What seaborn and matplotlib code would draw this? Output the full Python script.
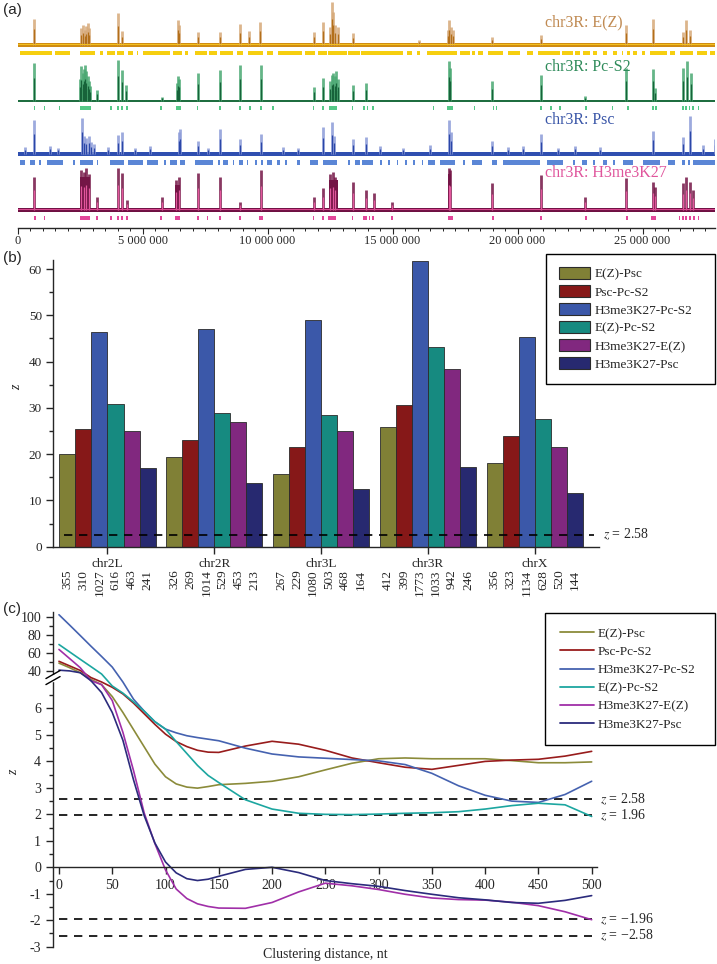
import numpy as np
import pandas as pd
import matplotlib
matplotlib.use("Agg")
import matplotlib.pyplot as plt
import matplotlib.transforms as mtransforms
import seaborn as sns
from matplotlib.ticker import FuncFormatter, MultipleLocator
from matplotlib.patches import Patch, Rectangle
from matplotlib.lines import Line2D

# ---------------- panel (a): chr3R tracks (positions in Mb, heights in arbitrary units)
CHR_LEN = 27.9e6

ez_peak_pos = [0.67, 2.55, 2.62, 2.68, 2.74, 2.80, 2.86, 4.0, 4.17, 6.41, 6.46, 7.2, 8.1, 8.9, 9.26, 9.7,
               11.86, 12.23, 12.5, 12.57, 12.63, 12.7, 12.83, 13.4, 16.04, 17.2, 17.27, 17.33, 17.4, 18.98,
               20.92, 24.35, 25.4, 26.6, 26.72, 26.9]
ez_peak_h = [26, 17, 20, 15, 19, 22, 17, 31.7, 14, 25, 20, 13, 13, 20.7, 14, 23,
             12.7, 22.7, 18, 42.7, 33, 20, 18, 11.7, 5, 15, 25, 18, 15, 8,
             10, 20, 26, 13, 25, 15]
ez_bars = [(0.10, 1.37), (1.50, 2.10), (2.50, 3.10), (3.30, 3.43), (3.57, 3.90), (3.99, 4.26), (4.43, 4.63),
           (4.77, 4.83), (5.03, 6.10), (6.23, 6.57), (6.70, 6.83), (7.10, 7.57), (7.67, 7.97), (8.10, 8.63),
           (8.77, 9.03), (9.23, 9.83), (9.97, 10.23), (10.43, 11.37), (11.50, 11.90), (12.03, 12.37),
           (12.43, 13.17), (13.23, 13.70), (13.75, 15.43), (15.57, 15.77), (15.97, 16.10), (16.37, 17.57),
           (17.70, 18.10), (18.17, 18.30), (18.43, 18.63), (18.83, 19.43), (19.63, 20.10), (20.37, 20.63),
           (20.83, 21.70), (21.77, 22.23), (22.30, 22.50), (22.63, 22.90), (23.03, 23.17), (23.43, 23.57),
           (23.83, 23.97), (24.17, 24.23), (24.37, 24.50), (24.63, 24.77), (24.97, 25.10), (25.30, 25.97),
           (26.10, 26.30), (26.50, 27.03), (27.17, 27.57), (27.70, 27.90)]

pc_peak_pos = [0.67, 2.5, 2.55, 2.6, 2.65, 2.7, 2.75, 2.8, 2.85, 2.9, 3.17, 4.0, 4.17, 4.34, 5.77, 6.37, 6.42,
               6.47, 7.2, 8.1, 8.9, 9.73, 11.86, 12.23, 12.5, 12.56, 12.62, 12.68, 12.74, 12.8, 13.4, 13.94,
               17.25, 17.3, 18.98, 20.92, 22.7, 24.35, 25.4, 25.5, 26.6, 26.77, 26.93]
pc_peak_h = [37.7, 22, 35, 28, 32, 36, 30, 25, 20, 15, 11, 41, 31, 16, 4, 18, 25,
             22, 27.7, 31, 36, 36, 13.7, 22.7, 20, 26, 28, 25, 30, 22, 16, 18,
             40, 33, 20, 26, 5, 33, 31.7, 13, 33, 40, 28]
pc_blocks = [(2.5, 2.9, 12), (6.37, 6.5, 8), (12.5, 12.8, 10)]
pc_bars = [(0.64, 0.70), (1.04, 1.10), (1.64, 1.70), (2.50, 2.93), (3.71, 3.77), (3.97, 4.05), (4.14, 4.20),
           (4.35, 4.41), (5.71, 5.77), (6.34, 6.53), (7.16, 7.22), (8.07, 8.13), (8.87, 8.93), (9.27, 9.33),
           (9.71, 9.77), (10.18, 10.24), (11.80, 11.86), (12.19, 12.27), (12.47, 12.77), (13.38, 13.44),
           (13.81, 13.90), (13.96, 14.02), (14.18, 14.24), (16.60, 16.66), (17.19, 17.43), (18.24, 18.30),
           (19.01, 19.07), (19.12, 19.18), (20.91, 20.97), (21.30, 21.36), (21.67, 21.73), (22.71, 22.77),
           (23.76, 23.82), (24.37, 24.47), (25.37, 25.45), (25.50, 25.57), (26.58, 26.64), (26.71, 26.77),
           (26.84, 26.90), (26.98, 27.04), (27.20, 27.26)]

psc_peak_pos = [0.67, 2.57, 2.65, 2.75, 2.85, 2.95, 3.05, 4.0, 4.17, 6.45, 6.5, 7.2, 8.1, 8.9, 9.73,
                12.23, 12.57, 12.65, 13.4, 13.94, 17.27, 17.33, 18.98, 20.92, 25.4, 26.6, 26.9, 27.9,
                0.3, 1.3, 1.6, 3.6, 4.7, 5.3, 7.6, 10.6, 11.2, 14.5, 15.4, 16.5, 19.6, 20.2, 21.6,
                22.3, 23.3, 27.4]
psc_peak_h = [34, 36, 18, 16, 18, 12, 10, 19, 22, 22, 25, 13, 25, 15, 20,
              26.7, 32, 18, 15, 17, 34, 22, 13, 20, 23, 17, 38, 15,
              7, 8, 6, 7, 6, 8, 6, 7, 6, 8, 6, 9, 7, 8, 6,
              8, 7, 9]
psc_bars = [(0.10, 0.30), (0.50, 0.70), (0.87, 0.93), (1.17, 1.83), (2.23, 2.30), (2.50, 3.03), (3.17, 3.21),
            (3.70, 4.26), (4.43, 5.03), (5.17, 5.63), (5.86, 5.92), (6.10, 6.37), (6.50, 6.70), (7.10, 7.83),
            (8.03, 8.09), (8.23, 8.43), (8.63, 8.67), (8.87, 9.03), (9.17, 9.23), (9.50, 9.56), (9.73, 9.83),
            (9.97, 10.17), (10.37, 10.50), (10.70, 10.76), (11.17, 11.30), (11.70, 12.03), (12.21, 12.77),
            (13.23, 13.30), (13.50, 13.70), (13.77, 14.23), (14.50, 14.56), (14.83, 14.89), (15.17, 15.23),
            (15.50, 15.56), (15.83, 15.89), (16.17, 16.23), (16.43, 16.70), (16.90, 17.50), (17.83, 17.89),
            (18.17, 18.57), (18.97, 19.17), (19.43, 20.90), (21.17, 21.83), (22.23, 22.29), (22.57, 22.77),
            (23.03, 23.09), (23.43, 23.57), (23.83, 23.90), (24.23, 24.63), (25.03, 25.70), (26.03, 26.30),
            (26.57, 26.70), (26.83, 26.89), (27.03, 27.90)]

h3_peak_pos = [0.67, 3.17, 4.0, 4.17, 4.37, 5.77, 7.2, 8.1, 8.9, 9.73, 11.86, 12.23, 13.4, 13.94, 14.24,
               14.97, 18.98, 20.92, 22.7, 24.35, 25.4, 25.5, 26.6, 26.72, 26.9, 27.0,
               2.55, 2.65, 2.75, 2.85, 6.35, 6.45, 12.5, 12.6, 12.7, 17.25, 17.3]
h3_peak_h = [33, 13, 42, 37, 10, 13, 37, 33, 8, 40, 13, 22, 28, 20, 17,
             8, 27, 35, 13, 32, 28, 23, 27, 33, 28, 20,
             40, 38, 42, 36, 30, 33, 36, 38, 33, 42, 40]
h3_blocks = [(2.5, 2.88, 33), (6.3, 6.5, 25), (12.45, 12.8, 30), (17.2, 17.35, 36)]
h3_bars = [(0.64, 0.72), (1.04, 1.10), (2.50, 2.90), (3.14, 3.20), (3.71, 3.77), (3.97, 4.05), (4.14, 4.20),
           (4.35, 4.41), (5.71, 5.79), (6.30, 6.50), (7.16, 7.24), (7.56, 7.62), (8.07, 8.15), (8.87, 8.93),
           (9.67, 9.80), (11.80, 11.86), (12.18, 12.24), (12.43, 12.74), (13.38, 13.44), (13.81, 13.97),
           (14.05, 14.10), (14.18, 14.24), (14.94, 15.00), (17.23, 17.43), (18.98, 19.04), (20.91, 20.97),
           (22.71, 22.77), (24.34, 24.40), (25.34, 25.54), (26.44, 26.50), (26.58, 26.64), (26.71, 26.77),
           (26.87, 26.93), (27.03, 27.09), (27.20, 27.26)]

# ---------------- panel (b)
chroms = ["chr2L", "chr2R", "chr3L", "chr3R", "chrX"]
pairs = ["E(Z)-Psc", "Psc-Pc-S2", "H3me3K27-Pc-S2", "E(Z)-Pc-S2", "H3me3K27-E(Z)", "H3me3K27-Psc"]
z_ez_psc = [20.0, 19.3, 15.7, 25.9, 18.1]
z_psc_pc = [25.5, 23.0, 21.6, 30.7, 24.0]
z_h3_pc = [46.5, 47.1, 49.0, 61.8, 45.4]
z_ez_pc = [30.8, 28.9, 28.5, 43.1, 27.5]
z_h3_ez = [25.0, 27.0, 25.1, 38.3, 21.6]
z_h3_psc = [16.9, 13.8, 12.4, 17.3, 11.6]
n_ez_psc = [355, 326, 267, 412, 356]
n_psc_pc = [310, 269, 229, 399, 323]
n_h3_pc = [1027, 1014, 1080, 1773, 1134]
n_ez_pc = [616, 529, 503, 1033, 628]
n_h3_ez = [463, 453, 468, 942, 520]
n_h3_psc = [241, 213, 164, 246, 144]
bar_colors = ["#808036", "#861818", "#3b58a9", "#168a80", "#81287f", "#272970"]

# ---------------- panel (c)
dist = [0, 10, 20, 30, 40, 50, 60, 70, 80, 90, 100, 110, 120, 130, 140, 150, 175, 200, 225, 250,
        275, 300, 325, 350, 375, 400, 425, 450, 475, 500]
c_ez_psc = [49, 44, 38.5, 7.1, 6.9, 6.45, 5.85, 5.2, 4.55, 3.9, 3.42, 3.15, 3.03, 2.99, 3.05, 3.12, 3.17,
            3.25, 3.42, 3.68, 3.93, 4.1, 4.13, 4.1, 4.1, 4.1, 4.03, 3.95, 3.95, 3.98]
c_psc_pc = [51, 46, 41, 20, 7.0, 6.8, 6.55, 6.2, 5.8, 5.4, 5.03, 4.75, 4.56, 4.42, 4.35, 4.34, 4.58, 4.76,
            4.65, 4.42, 4.13, 3.95, 3.78, 3.7, 3.85, 4.0, 4.05, 4.08, 4.2, 4.38]
c_h3_pc = [102, 90.7, 79.2, 67.6, 56.3, 44.7, 7.0, 6.35, 5.9, 5.5, 5.22, 5.08, 4.97, 4.9, 4.84, 4.78, 4.5,
           4.28, 4.17, 4.12, 4.07, 4.02, 3.88, 3.55, 3.08, 2.72, 2.5, 2.45, 2.75, 3.25]
c_ez_pc = [69.4, 61.3, 53.2, 45.2, 37.1, 6.85, 6.58, 6.25, 5.9, 5.5, 5.22, 4.75, 4.3, 3.85, 3.47, 3.2, 2.55,
           2.2, 2.04, 2.0, 1.99, 2.01, 2.04, 2.06, 2.1, 2.2, 2.33, 2.42, 2.36, 1.92]
c_h3_ez = [64, 54, 44, 7.05, 6.9, 6.3, 5.1, 3.65, 2.05, 0.9, -0.1, -0.82, -1.18, -1.38, -1.48, -1.54, -1.55,
           -1.33, -0.93, -0.6, -0.7, -0.84, -1.02, -1.16, -1.22, -1.24, -1.32, -1.45, -1.68, -1.98]
c_h3_psc = [41.3, 40.5, 38.5, 7.05, 6.6, 5.85, 4.8, 3.3, 1.95, 0.92, 0.2, -0.21, -0.43, -0.5, -0.45, -0.34,
            -0.08, 0.0, -0.2, -0.5, -0.62, -0.72, -0.88, -1.02, -1.15, -1.23, -1.33, -1.36, -1.25, -1.07]
line_colors = ["#8b8b3a", "#981c1c", "#4562b0", "#1ca6a0", "#a02fa8", "#2b2b7c"]
z_levels = [2.58, 1.96, -1.96, -2.58]
z_level_labels = ["$z$ = 2.58", "$z$ = 1.96", "$z$ = \u22121.96", "$z$ = \u22122.58"]

# ---------------- style
sns.set_theme(style="ticks")
plt.rcParams["font.family"] = ["Liberation Serif", "DejaVu Serif"]
plt.rcParams["mathtext.fontset"] = "stix"
plt.rcParams["axes.unicode_minus"] = False
plt.rcParams["axes.linewidth"] = 1.0

W, H = 717, 964
fig = plt.figure(figsize=(W / 100, H / 100), dpi=100)


def rect(l, t, r, b):
    return [l / W, 1 - b / H, (r - l) / W, (b - t) / H]


def draw_track(ax, base, pos, h, blocks, bars, bar_y, band, light, dark, bar_color,
               band_h=3.6, trace=None):
    x = np.asarray(pos) * 1e6
    hh = np.asarray(h, float)
    ax.fill_between([0, CHR_LEN], base - band_h / 2, base + band_h / 2, color=band, lw=0, zorder=2)
    for s, e, bh in blocks:
        ax.fill_between([s * 1e6, e * 1e6], base, base + bh, color=light, lw=0, zorder=2)
    ax.vlines(x, base, base + hh, color=light, lw=2.0, alpha=0.85, zorder=3)
    ax.vlines(x, base, base + 0.6 * hh, color=dark, lw=0.9, zorder=4)
    if trace is not None:
        ax.axhline(base + 0.8, color=trace, lw=0.8, zorder=4)
    ax.broken_barh([(s * 1e6, (e - s) * 1e6) for s, e in bars], (bar_y - 2.3, 4.6),
                   facecolors=bar_color, lw=0)


# ---------------- (a)
ax_a = fig.add_axes(rect(17.5, 0, 715, 228))
draw_track(ax_a, 183, ez_peak_pos, ez_peak_h, [], ez_bars, 175, "#cf8b12", "#d6a878", "#b36f1a", "#f6cf10",
           band_h=4.0, trace="#f2c020")
draw_track(ax_a, 127.5, pc_peak_pos, pc_peak_h, pc_blocks, pc_bars, 120, "#1f6e40", "#4aa872", "#17633a",
           "#55c887", band_h=2.0)
draw_track(ax_a, 74, psc_peak_pos, psc_peak_h, [], psc_bars, 65.3, "#2f4fb0", "#8c9bd8", "#2b47a8", "#5b86d6",
           band_h=4.0)
draw_track(ax_a, 18, h3_peak_pos, h3_peak_h, h3_blocks, h3_bars, 10, "#6e0f42", "#741546", "#e2569c", "#e2479a",
           band_h=4.0, trace="#d8488f")
ax_a.set_xlim(0, CHR_LEN)
ax_a.set_ylim(0, 228)
for s in ["left", "right", "top"]:
    ax_a.spines[s].set_visible(False)
ax_a.set_yticks([])
ax_a.xaxis.set_major_locator(MultipleLocator(5e6))
ax_a.xaxis.set_minor_locator(MultipleLocator(5e5))
ax_a.xaxis.set_major_formatter(FuncFormatter(lambda v, p: f"{int(round(v)):,}".replace(",", " ")))
ax_a.tick_params(axis="x", length=4, width=0.8, labelsize=9, pad=1)
ax_a.tick_params(axis="x", which="minor", length=2.5, width=0.7)
lab_x = (545 - 17.5) / (715 - 17.5)
for txt, y, c in [("chr3R: E(Z)", 206, "#c08a52"), ("chr3R: Pc-S2", 161, "#2e8b5a"),
                  ("chr3R: Psc", 108, "#3a56a8"), ("chr3R: H3me3K27", 55, "#e0559c")]:
    ax_a.text(lab_x, y, txt, color=c, fontsize=11.5, ha="left", va="center",
              transform=mtransforms.blended_transform_factory(ax_a.transAxes, ax_a.transData))

# ---------------- (b)
ax_b = fig.add_axes(rect(53, 259.8, 599, 546.7))
z_by_pair = [z_ez_psc, z_psc_pc, z_h3_pc, z_ez_pc, z_h3_ez, z_h3_psc]
n_by_pair = [n_ez_psc, n_psc_pc, n_h3_pc, n_ez_pc, n_h3_ez, n_h3_psc]
df_b = pd.DataFrame({
    "chrom": chroms * len(pairs),
    "pair": np.repeat(pairs, len(chroms)),
    "z": np.concatenate(z_by_pair),
})
sns.barplot(data=df_b, x="chrom", y="z", hue="pair", order=chroms, hue_order=pairs,
            palette=bar_colors, saturation=1, width=0.9, edgecolor="#2b2b2b", linewidth=0.6,
            legend=False, ax=ax_b)
ax_b.set_xlim(-0.51, 4.6)
ax_b.set_ylim(0, 62)
ax_b.yaxis.set_major_locator(MultipleLocator(10))
ax_b.yaxis.set_minor_locator(MultipleLocator(5))
ax_b.tick_params(axis="both", length=5, width=1, labelsize=9.5, pad=3)
ax_b.tick_params(axis="y", which="minor", length=3, width=1)
sns.despine(ax=ax_b)
ax_b.set_xlabel("")
ax_b.set_ylabel("z", fontstyle="italic", fontsize=10)
ax_b.yaxis.set_label_coords(-0.055, 0.557)
ax_b.axhline(2.58, xmin=0.02, xmax=0.99, color="black", lw=1.2, ls=(0, (5, 4)), zorder=5)
trans_b = mtransforms.blended_transform_factory(ax_b.transAxes, ax_b.transData)
ax_b.text(1.008, 2.58, "$z$ = 2.58", transform=trans_b, va="center", ha="left", fontsize=10)
trans_bn = mtransforms.blended_transform_factory(ax_b.transData, ax_b.transAxes)
for cont, counts in zip(ax_b.containers, n_by_pair):
    for bar, n in zip(cont, counts):
        ax_b.text(bar.get_x() + bar.get_width() / 2, -0.08, str(n), transform=trans_bn,
                  rotation=90, ha="center", va="top", fontsize=9.5)
leg_b = ax_b.legend([Patch(facecolor=c, edgecolor="#2b2b2b", lw=0.8) for c in bar_colors], pairs,
                    loc="upper left", bbox_to_anchor=(546 / W, 1 - 255 / H, 169 / W, 0.001),
                    bbox_transform=fig.transFigure, mode="expand", fancybox=False, framealpha=1,
                    edgecolor="black", fontsize=9.5, handlelength=2.3, handleheight=1.0,
                    labelspacing=0.35, borderpad=1.0, borderaxespad=0, handletextpad=0.4)
leg_b.get_frame().set_linewidth(1.0)

# ---------------- (c)
ax_c = fig.add_axes(rect(53, 612, 597, 946.7))
series_c = [c_ez_psc, c_psc_pc, c_h3_pc, c_ez_pc, c_h3_ez, c_h3_psc]
df_c = pd.DataFrame({
    "dist": dist * len(pairs),
    "pair": np.repeat(pairs, len(dist)),
    "z": np.concatenate(series_c),
})
sns.lineplot(data=df_c, x="dist", y="z", hue="pair", hue_order=pairs, palette=line_colors,
             estimator=None, sort=False, lw=1.2, legend=False, ax=ax_c)

LO_TOP, HI_BOT, GAP, K_HI = 7.1, 35.6, 0.15, 0.0345


def fwd(z):
    z = np.asarray(z, float)
    mid = LO_TOP + (z - LO_TOP) * GAP / (HI_BOT - LO_TOP)
    hi = LO_TOP + GAP + (z - HI_BOT) * K_HI
    return np.where(z <= LO_TOP, z, np.where(z < HI_BOT, mid, hi))


def inv(y):
    y = np.asarray(y, float)
    mid = LO_TOP + (y - LO_TOP) * (HI_BOT - LO_TOP) / GAP
    hi = HI_BOT + (y - LO_TOP - GAP) / K_HI
    return np.where(y <= LO_TOP, y, np.where(y < LO_TOP + GAP, mid, hi))


ax_c.set_yscale("function", functions=(fwd, inv))
ax_c.set_ylim(-3, 105)
ax_c.set_xlim(-5.6, 505)
ax_c.set_yticks([-3, -2, -1, 0, 1, 2, 3, 4, 5, 6, 40, 60, 80, 100])
ax_c.set_yticks([-2.5, -1.5, -0.5, 0.5, 1.5, 2.5, 3.5, 4.5, 5.5, 6.5, 50, 70, 90], minor=True)
ax_c.yaxis.set_major_formatter(FuncFormatter(lambda v, p: f"{int(round(v))}"))
ax_c.yaxis.set_minor_formatter(FuncFormatter(lambda v, p: ""))
ax_c.set_xticks(range(0, 501, 50))
ax_c.spines["bottom"].set_position(("data", 0))
sns.despine(ax=ax_c)
ax_c.tick_params(axis="both", length=5, width=1, labelsize=10)
ax_c.tick_params(axis="y", which="minor", length=3, width=1)
ax_c.hlines(z_levels, 0, 500, colors="black", lw=1.2, linestyles=(0, (5, 4)), zorder=1)
trans_c = mtransforms.blended_transform_factory(ax_c.transAxes, ax_c.transData)
for z, lab in zip(z_levels, z_level_labels):
    ax_c.text(1.006, z, lab, transform=trans_c, va="center", ha="left", fontsize=10)
ax_c.set_xlabel("Clustering distance, nt", fontsize=10)
ax_c.xaxis.set_label_coords(0.5, -0.005)
ax_c.set_ylabel("z", fontstyle="italic", fontsize=10)
ax_c.yaxis.set_label_coords(-0.06, 0.52)

# axis break marks
yb = float((fwd(20) - fwd(-3)) / (fwd(105) - fwd(-3)))
ax_c.add_patch(Rectangle((-0.02, yb - 0.009), 0.04, 0.018, transform=ax_c.transAxes,
                         color="white", clip_on=False, zorder=6))
for off in (-0.009, 0.009):
    ax_c.plot([-0.013, 0.013], [yb + off - 0.012, yb + off + 0.012], transform=ax_c.transAxes,
              color="black", lw=1.0, clip_on=False, zorder=7)

leg_c = ax_c.legend([Line2D([], [], color=c, lw=1.3) for c in line_colors], pairs,
                    loc="upper left", bbox_to_anchor=(545 / W, 1 - 614 / H, 170 / W, 0.001),
                    bbox_transform=fig.transFigure, mode="expand", fancybox=False, framealpha=1,
                    edgecolor="black", fontsize=9.5, handlelength=2.6, labelspacing=0.45,
                    borderpad=1.1, borderaxespad=0, handletextpad=0.3)
leg_c.get_frame().set_linewidth(1.0)

# panel letters
for letter, top in [("(a)", 3), ("(b)", 251), ("(c)", 602)]:
    fig.text(3 / W, 1 - top / H, letter, fontsize=11, family="Liberation Sans", ha="left", va="top")

fig.savefig("out.png", dpi=100)
